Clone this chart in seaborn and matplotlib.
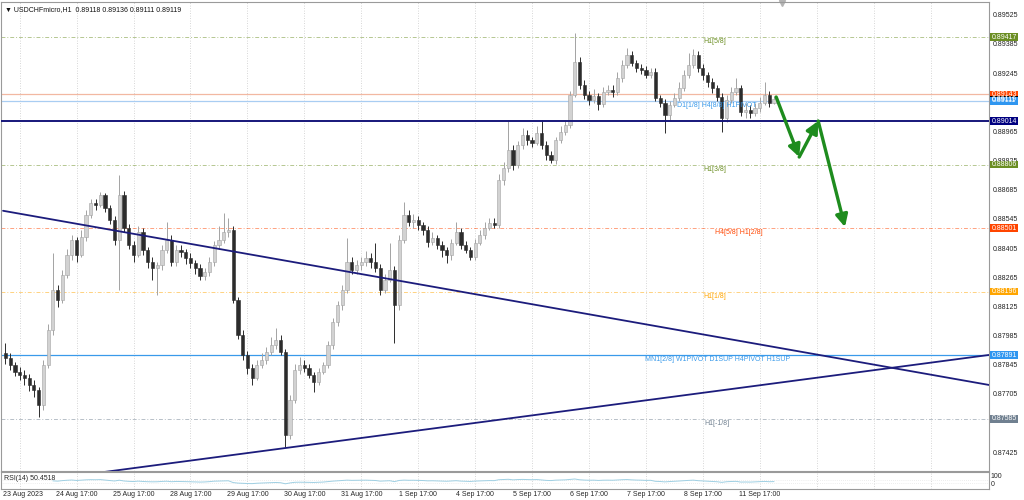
import numpy as np
import pandas as pd
import seaborn as sns
import matplotlib.pyplot as plt
from matplotlib import transforms
from matplotlib.patches import Rectangle

# USDCHFmicro, bars (2-hour steps, 23 Aug 10:00 -> 11 Sep 21:00)
first_open = 0.87900
closes = [
    0.87878, 0.87844, 0.87810, 0.87796, 0.87782, 0.87748, 0.87724, 0.87652, 0.87844, 0.88012,
    0.88204, 0.88156, 0.88276, 0.88372, 0.88444, 0.88372, 0.88458, 0.88564, 0.88622, 0.88612,
    0.88660, 0.88598, 0.88540, 0.88444, 0.88660, 0.88502, 0.88420, 0.88372, 0.88482, 0.88396,
    0.88338, 0.88310, 0.88324, 0.88396, 0.88444, 0.88338, 0.88396, 0.88386, 0.88358, 0.88334,
    0.88310, 0.88271, 0.88290, 0.88338, 0.88420, 0.88444, 0.88482, 0.88492, 0.88156, 0.87988,
    0.87892, 0.87830, 0.87782, 0.87844, 0.87868, 0.87906, 0.87940, 0.87964, 0.87906, 0.87508,
    0.87676, 0.87820, 0.87844, 0.87830, 0.87796, 0.87762, 0.87810, 0.87844, 0.87940, 0.88050,
    0.88132, 0.88204, 0.88338, 0.88300, 0.88324, 0.88338, 0.88358, 0.88338, 0.88310, 0.88204,
    0.88252, 0.88300, 0.88132, 0.88444, 0.88564, 0.88530, 0.88540, 0.88516, 0.88492, 0.88434,
    0.88454, 0.88420, 0.88396, 0.88372, 0.88430, 0.88482, 0.88420, 0.88396, 0.88362, 0.88430,
    0.88468, 0.88502, 0.88526, 0.88516, 0.88732, 0.88790, 0.88876, 0.88804, 0.88900, 0.88948,
    0.88924, 0.88910, 0.88958, 0.88900, 0.88852, 0.88828, 0.88924, 0.88962, 0.88996, 0.89140,
    0.89298, 0.89188, 0.89140, 0.89116, 0.89135, 0.89097, 0.89154, 0.89164, 0.89154, 0.89222,
    0.89284, 0.89332, 0.89294, 0.89270, 0.89260, 0.89236, 0.89250, 0.89126, 0.89102, 0.89044,
    0.89092, 0.89126, 0.89174, 0.89236, 0.89284, 0.89332, 0.89270, 0.89236, 0.89202, 0.89174,
    0.89130, 0.89030, 0.89116, 0.89154, 0.89174, 0.89058, 0.89068, 0.89054, 0.89078, 0.89102,
    0.89140, 0.89102, 0.89119,
]
highs = [
    0.87950, 0.87900, 0.87860, 0.87835, 0.87820, 0.87800, 0.87770, 0.87740, 0.87870, 0.88040,
    0.88380, 0.88230, 0.88300, 0.88400, 0.88470, 0.88460, 0.88490, 0.88590, 0.88640, 0.88640,
    0.88674, 0.88670, 0.88610, 0.88560, 0.88756, 0.88680, 0.88520, 0.88440, 0.88510, 0.88500,
    0.88410, 0.88360, 0.88340, 0.88420, 0.88530, 0.88470, 0.88420, 0.88420, 0.88400, 0.88380,
    0.88350, 0.88330, 0.88310, 0.88360, 0.88440, 0.88510, 0.88574, 0.88550, 0.88510, 0.88170,
    0.88010, 0.87910, 0.87850, 0.87870, 0.87900, 0.87930, 0.87980, 0.88022, 0.87990, 0.87920,
    0.87700, 0.87850, 0.87880, 0.87870, 0.87850, 0.87810, 0.87830, 0.87860, 0.87960, 0.88070,
    0.88150, 0.88230, 0.88454, 0.88360, 0.88350, 0.88360, 0.88390, 0.88380, 0.88430, 0.88330,
    0.88280, 0.88430, 0.88320, 0.88470, 0.88626, 0.88590, 0.88570, 0.88560, 0.88530, 0.88510,
    0.88480, 0.88470, 0.88440, 0.88410, 0.88450, 0.88530, 0.88500, 0.88440, 0.88410, 0.88450,
    0.88490, 0.88530, 0.88550, 0.88550, 0.88760, 0.88820, 0.89020, 0.88900, 0.88920, 0.88980,
    0.88970, 0.88940, 0.88990, 0.89020, 0.88920, 0.88870, 0.88940, 0.88990, 0.89020, 0.89160,
    0.89438, 0.89320, 0.89210, 0.89160, 0.89170, 0.89150, 0.89180, 0.89190, 0.89190, 0.89250,
    0.89310, 0.89366, 0.89350, 0.89310, 0.89290, 0.89280, 0.89270, 0.89270, 0.89140, 0.89120,
    0.89110, 0.89150, 0.89200, 0.89260, 0.89340, 0.89361, 0.89350, 0.89290, 0.89250, 0.89220,
    0.89190, 0.89150, 0.89140, 0.89180, 0.89222, 0.89190, 0.89100, 0.89090, 0.89100, 0.89130,
    0.89200, 0.89160, 0.89136,
]
lows = [
    0.87850, 0.87820, 0.87790, 0.87770, 0.87750, 0.87720, 0.87690, 0.87594, 0.87630, 0.87830,
    0.87990, 0.88120, 0.88140, 0.88260, 0.88350, 0.88340, 0.88360, 0.88440, 0.88550, 0.88590,
    0.88600, 0.88580, 0.88520, 0.88420, 0.88204, 0.88480, 0.88400, 0.88340, 0.88360, 0.88370,
    0.88310, 0.88252, 0.88180, 0.88300, 0.88380, 0.88320, 0.88320, 0.88360, 0.88330, 0.88310,
    0.88280, 0.88250, 0.88250, 0.88270, 0.88320, 0.88400, 0.88430, 0.88460, 0.88140, 0.87970,
    0.87870, 0.87800, 0.87748, 0.87770, 0.87830, 0.87850, 0.87890, 0.87920, 0.87890, 0.87450,
    0.87490, 0.87660, 0.87800, 0.87810, 0.87780, 0.87714, 0.87750, 0.87800, 0.87830, 0.87920,
    0.88030, 0.88110, 0.88190, 0.88280, 0.88280, 0.88300, 0.88320, 0.88310, 0.88290, 0.88180,
    0.88190, 0.88240, 0.87950, 0.88110, 0.88430, 0.88510, 0.88500, 0.88490, 0.88470, 0.88410,
    0.88420, 0.88400, 0.88360, 0.88334, 0.88350, 0.88420, 0.88400, 0.88380, 0.88350, 0.88350,
    0.88420, 0.88450, 0.88490, 0.88500, 0.88500, 0.88710, 0.88770, 0.88780, 0.88790, 0.88880,
    0.88900, 0.88890, 0.88900, 0.88880, 0.88830, 0.88814, 0.88810, 0.88910, 0.88950, 0.88980,
    0.89130, 0.89170, 0.89120, 0.89090, 0.89100, 0.89070, 0.89080, 0.89140, 0.89130, 0.89140,
    0.89200, 0.89270, 0.89280, 0.89250, 0.89240, 0.89220, 0.89220, 0.89110, 0.89080, 0.88958,
    0.89020, 0.89080, 0.89110, 0.89160, 0.89220, 0.89270, 0.89250, 0.89210, 0.89180, 0.89150,
    0.89110, 0.88962, 0.89010, 0.89100, 0.89140, 0.89040, 0.89030, 0.89030, 0.89040, 0.89060,
    0.89090, 0.89080, 0.89095,
]

date_labels = ["23 Aug 2023", "24 Aug 17:00", "25 Aug 17:00", "28 Aug 17:00", "29 Aug 17:00",
               "30 Aug 17:00", "31 Aug 17:00", "1 Sep 17:00", "4 Sep 17:00", "5 Sep 17:00",
               "6 Sep 17:00", "7 Sep 17:00", "8 Sep 17:00", "11 Sep 17:00"]

# price scale labels (those hidden under the level badges are left out)
scale_ticks = [0.89525, 0.89385, 0.89245, 0.88965, 0.88825, 0.88685, 0.88545, 0.88405,
               0.88265, 0.88125, 0.87985, 0.87845, 0.87705, 0.87425]

# horizontal levels drawn by the indicator
level_prices = [0.89417, 0.89143, 0.89111, 0.89014, 0.88806, 0.88501, 0.88196, 0.87891, 0.87585]
level_colors = ["#6b8e23", "#f2b8a2", "#a9cdf2", "#16167a", "#6b8e23", "#ff4500", "#ffa500", "#3a9aea", "#708090"]
level_styles = ["dashdot", "-", "-", "-", "dashdot", "dashdot", "dashdot", "-", "dashdot"]

level_texts = ["H1[5/8]", "D1[1/8] H4[8/8] H1PIVOT", "H1[3/8]", "H4[5/8] H1[2/8]", "H1[1/8]",
               "MN1[2/8] W1PIVOT D1SUP H4PIVOT H1SUP", "H1[-1/8]"]
level_text_prices = [0.89417, 0.89111, 0.88806, 0.88501, 0.88196, 0.87891, 0.87585]
level_text_colors = ["#6b8e23", "#3a9aea", "#6b8e23", "#ff4500", "#ffa500", "#3a9aea", "#708090"]
level_text_hours = [300, 301, 300, 310, 300, 301, 301]

badge_prices = [0.89417, 0.89143, 0.89119, 0.89111, 0.89014, 0.88806, 0.88501, 0.88196, 0.87891, 0.87585]
badge_colors = ["#6b8e23", "#ff4500", "#000000", "#2f96f0", "#000080", "#6b8e23", "#ff4500", "#ffa500", "#2f96f0", "#708090"]

# trend lines (hour, price) and the projected path arrow
down_trend = ([0, 415.6], [0.88584, 0.87748])
up_trend = ([42.5, 415.6], [0.87330, 0.87892])
arrow_hours = [325.9, 335.6, 343.6, 354.9]
arrow_prices = [0.89130, 0.88842, 0.89015, 0.88506]

sns.set_theme(style="white")
plt.rcParams["font.family"] = ["Liberation Sans", "DejaVu Sans"]

n = len(closes)
hours = np.arange(n) * 2 + 1
opens = np.array([first_open] + closes[:-1])
c = np.array(closes)
up = c >= opens

fig = plt.figure(figsize=(10.24, 5.0), dpi=100)
ax = fig.add_axes([0.001, 0.058, 0.9648, 0.938])
ax_rsi = fig.add_axes([0.001, 0.022, 0.9648, 0.034], sharex=ax)

ax.set_xlim(-0.85, 415.6)
ax.set_ylim(0.87335, 0.89586)

grid_hours = [7 + 24 * k for k in range(17)]
for g in grid_hours:
    for a in (ax, ax_rsi):
        a.axvline(g, color="#c9c9c9", lw=0.6, ls=(0, (1, 2)), zorder=0)

for p, col, ls in zip(level_prices, level_colors, level_styles):
    if p == 0.89014:
        ax.axhline(p, color=col, lw=1.4, zorder=3)
    elif ls == "-":
        ax.axhline(p, color=col, lw=0.9, zorder=1)
    else:
        ax.axhline(p, color=col, lw=0.7, ls=(0, (4, 2, 1, 2)), alpha=0.5, zorder=1)

# candles
bull_col, bear_col = "#d2d2d2", "#2c2c2c"
ax.vlines(hours[up], np.array(lows)[up], np.array(highs)[up], color="#a3a3a3", lw=0.7, zorder=2)
ax.vlines(hours[~up], np.array(lows)[~up], np.array(highs)[~up], color=bear_col, lw=0.7, zorder=2)
body_lo = np.minimum(opens, c)
body_h = np.maximum(np.abs(c - opens), 0.00002)
ax.bar(hours[up], body_h[up], bottom=body_lo[up], width=1.35, color=bull_col,
       edgecolor="#a3a3a3", linewidth=0.4, zorder=2)
ax.bar(hours[~up], body_h[~up], bottom=body_lo[~up], width=1.35, color=bear_col,
       edgecolor=bear_col, linewidth=0.4, zorder=2)

for t, p, col, h in zip(level_texts, level_text_prices, level_text_colors, level_text_hours):
    ax.text(h, p - 0.00006, t, color=col, fontsize=5, ha="center", va="top", zorder=4)

sns.lineplot(x=down_trend[0], y=down_trend[1], ax=ax, color="#1c1c7c", lw=1.3, zorder=5)
sns.lineplot(x=up_trend[0], y=up_trend[1], ax=ax, color="#1c1c7c", lw=1.3, zorder=5)

for k in range(3):
    ax.annotate("", xy=(arrow_hours[k + 1], arrow_prices[k + 1]), xytext=(arrow_hours[k], arrow_prices[k]),
                arrowprops=dict(arrowstyle="-|>,head_length=0.6,head_width=0.3", color="#1e8c1e",
                                lw=2.4, shrinkA=0, shrinkB=0), zorder=6)

# right price scale
ax.yaxis.tick_right()
ax.set_yticks(scale_ticks)
ax.set_yticklabels([f"{t:.5f}" for t in scale_ticks], fontsize=5, color="#222222")
ax.tick_params(axis="y", length=0, pad=2.5)
ax.tick_params(axis="x", bottom=False, labelbottom=False)

blend = transforms.blended_transform_factory(ax.transAxes, ax.transData)
bh = 0.00036
for p, col in zip(badge_prices, badge_colors):
    ax.add_patch(Rectangle((1.001, p - bh / 2), 0.0285, bh, transform=blend, facecolor=col,
                           edgecolor="none", clip_on=False, zorder=10))
    ax.text(1.0155, p, f"{p:.5f}", transform=blend, color="white", fontsize=5,
            ha="center", va="center", clip_on=False, zorder=11)

ax.text(0.004, 0.991, "\u25bc USDCHFmicro,H1  0.89118 0.89136 0.89111 0.89119", transform=ax.transAxes,
        fontsize=5, va="top", ha="left", color="#111111")
ax.plot([781 / 988], [0.998], marker="v", color="#b4b4b4", ms=5, transform=ax.transAxes, clip_on=False)

# RSI(14) sub window
s = pd.Series(closes)
d = s.diff()
gain = d.clip(lower=0).ewm(alpha=1 / 14, adjust=False).mean()
loss = (-d.clip(upper=0)).ewm(alpha=1 / 14, adjust=False).mean()
rsi = 100 - 100 / (1 + gain / loss)
ax_rsi.set_ylim(-33, 156)
ax_rsi.axhline(70, color="#dddddd", lw=0.5, ls=(0, (1, 2)))
ax_rsi.axhline(30, color="#dddddd", lw=0.5, ls=(0, (1, 2)))
sns.lineplot(x=hours[10:], y=rsi.values[10:], ax=ax_rsi, color="#9fcfe2", lw=0.7)
ax_rsi.set_yticks([])
ax_rsi.set_xticks([])
ax_rsi.set_xlabel("")
ax_rsi.text(0.003, 0.62, "RSI(14) 50.4518", transform=ax_rsi.transAxes, fontsize=5, va="center", ha="left")
ax_rsi.text(1.002, 0.75, "100", transform=ax_rsi.transAxes, fontsize=5, va="center", ha="left")
ax_rsi.text(1.002, 0.25, "0", transform=ax_rsi.transAxes, fontsize=5, va="center", ha="left")

date_tr = transforms.blended_transform_factory(ax_rsi.transData, ax_rsi.transAxes)
for i, lab in enumerate(date_labels):
    if i == 0:
        ax_rsi.text(0, -0.12, lab, transform=date_tr, fontsize=5, ha="left", va="top")
    else:
        ax_rsi.text(grid_hours[i], -0.12, lab, transform=date_tr, fontsize=5, ha="center", va="top")

for a in (ax, ax_rsi):
    for sp in a.spines.values():
        sp.set_color("#9a9a9a")
        sp.set_linewidth(0.8)
ax.set_ylabel("")
ax.set_xlabel("")

fig.savefig("out.png", dpi=100)
